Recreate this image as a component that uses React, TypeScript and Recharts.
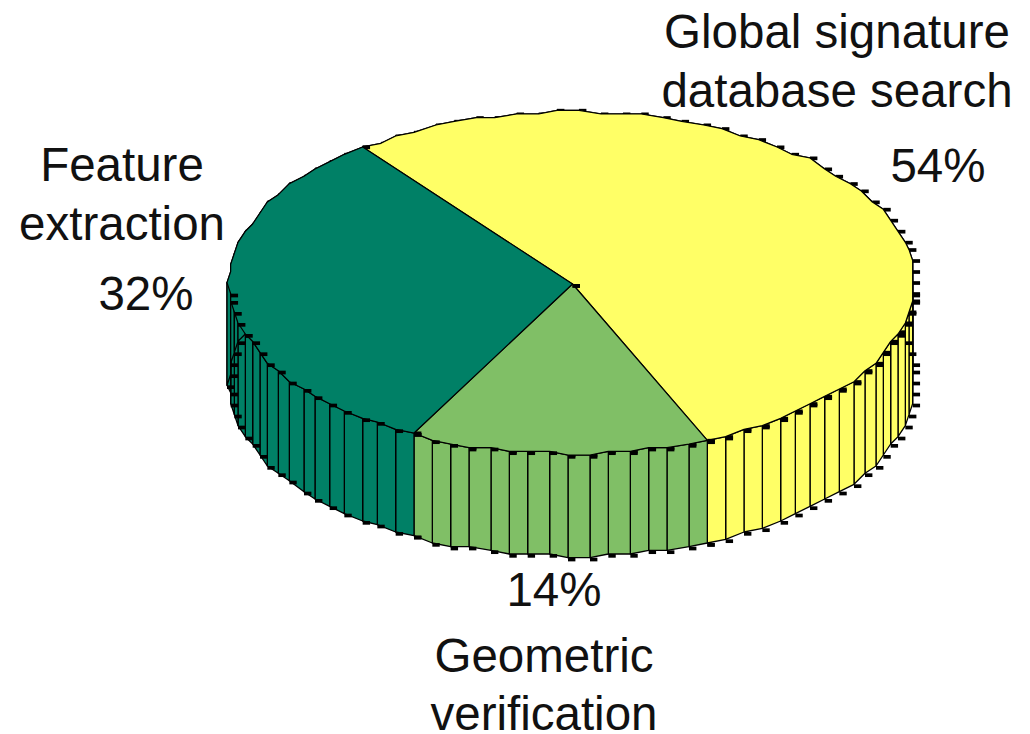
import React from 'react';
import { PieChart, Pie } from 'recharts';

const categories = ['Global signature database search', 'Geometric verification', 'Feature extraction'];
const shares = [54, 14, 32];
const colors = ['#FFFF66', '#80BF66', '#008066'];
// number of wall panels per wedge
const panelCounts = [55, 15, 33];

const WIDTH = 1030;
const HEIGHT = 734;
const CX = 571.5;
const CY = 284;
const RADIUS = 343;
const TILT = 172 / 343;
const DEPTH = 102.6;
const START_ANGLE = 127.6;

// plotter grid, the outline vertices sit on it; the lower half rounds upward
const GRID = 11 / 3;
const snapX = (v: number) => 414 + Math.round((v - 414) / GRID) * GRID;
const snapY = (v: number) => 433 + Math.round((v - (v < CY + 20 ? 433 : 435.5)) / GRID) * GRID;

const LABEL_FONT = '"Liberation Sans", Arial, sans-serif';

// text placement per wedge: lines of the name, then the percentage
const labelLayout = [
  { nameLines: ['Global signature', 'database search'], nameX: 837, nameY: [48, 107], pctX: 938, pctY: 182 },
  { nameLines: ['Geometric', 'verification'], nameX: 544, nameY: [672, 730], pctX: 554, pctY: 606 },
  { nameLines: ['Feature', 'extraction'], nameX: 122, nameY: [181, 240], pctX: 146, pctY: 310 },
];

function rimPoints(startAngle: number, endAngle: number, panels: number, cx: number, cy: number, r: number) {
  const pts: { x: number; y: number; rawY: number; front: boolean }[] = [];
  for (let i = 0; i <= panels; i++) {
    const a = ((startAngle + ((endAngle - startAngle) * i) / panels) * Math.PI) / 180;
    const rawY = cy - r * TILT * Math.sin(a);
    pts.push({ x: snapX(cx + r * Math.cos(a)), y: snapY(rawY), rawY, front: Math.sin(a) < 0 });
  }
  return pts;
}

const Tick = ({ x, y }: { x: number; y: number }) => <rect x={x} y={y} width={7.4} height={3.7} fill="#000" />;

// one wedge of the extruded pie: walls, vertex ticks, then the top face
function ExtrudedSector(props: any) {
  const { cx, cy, outerRadius, startAngle, endAngle, fill, index } = props;
  const idx = index ?? categories.indexOf(props.name);
  const pts = rimPoints(startAngle, endAngle, panelCounts[idx], cx, cy, outerRadius);
  const bottom = pts.map((p) => snapY(p.rawY + DEPTH));
  const apexX = cx + 1;
  const apexY = cy;
  const top = `M${apexX},${apexY} ` + pts.map((p) => `L${p.x},${p.y}`).join(' ') + ' Z';

  return (
    <g>
      {pts.slice(0, -1).map((p, i) => {
        const q = pts[i + 1];
        return (
          <path
            key={i}
            d={`M${p.x},${p.y} L${q.x},${q.y} L${q.x},${bottom[i + 1]} L${p.x},${bottom[i]} Z`}
            fill={fill}
            stroke="#000"
            strokeWidth={1.3}
            strokeLinejoin="round"
          />
        );
      })}
      {pts.map((p, i) => (
        <Tick key={`b${i}`} x={p.x} y={bottom[i]} />
      ))}
      {pts.map((p, i) => (
        <Tick key={`t${i}`} x={p.x} y={p.y - 1.5} />
      ))}
      <path d={top} fill={fill} stroke="#000" strokeWidth={1.2} strokeLinejoin="round" />
      {pts.map((p, i) => (p.front ? <Tick key={`f${i}`} x={p.x} y={p.y} /> : null))}
      <Tick x={apexX} y={apexY} />
    </g>
  );
}

function SliceLabel(props: any) {
  const layout = labelLayout[props.index];
  const common = { fontFamily: LABEL_FONT, fontSize: 47.5, fill: '#111', textAnchor: 'middle' as const };
  return (
    <g>
      {layout.nameLines.map((line, i) => (
        <text key={line} x={layout.nameX} y={layout.nameY[i]} {...common}>
          {line}
        </text>
      ))}
      <text x={layout.pctX} y={layout.pctY} {...common}>
        {`${shares[props.index]}%`}
      </text>
    </g>
  );
}

const data = categories.map((name, i) => ({ name, value: shares[i], fill: colors[i] }));

export default function App() {
  return (
    <div style={{ position: 'absolute', left: 0, top: 0, width: WIDTH, height: HEIGHT, background: '#fff' }}>
      <PieChart width={WIDTH} height={HEIGHT} margin={{ top: 0, right: 0, bottom: 0, left: 0 }}>
        <Pie
          data={data}
          dataKey="value"
          nameKey="name"
          cx={CX}
          cy={CY}
          innerRadius={0}
          outerRadius={RADIUS}
          startAngle={START_ANGLE}
          endAngle={START_ANGLE - 360}
          shape={ExtrudedSector}
          label={SliceLabel}
          labelLine={false}
          isAnimationActive={false}
        />
      </PieChart>
    </div>
  );
}
